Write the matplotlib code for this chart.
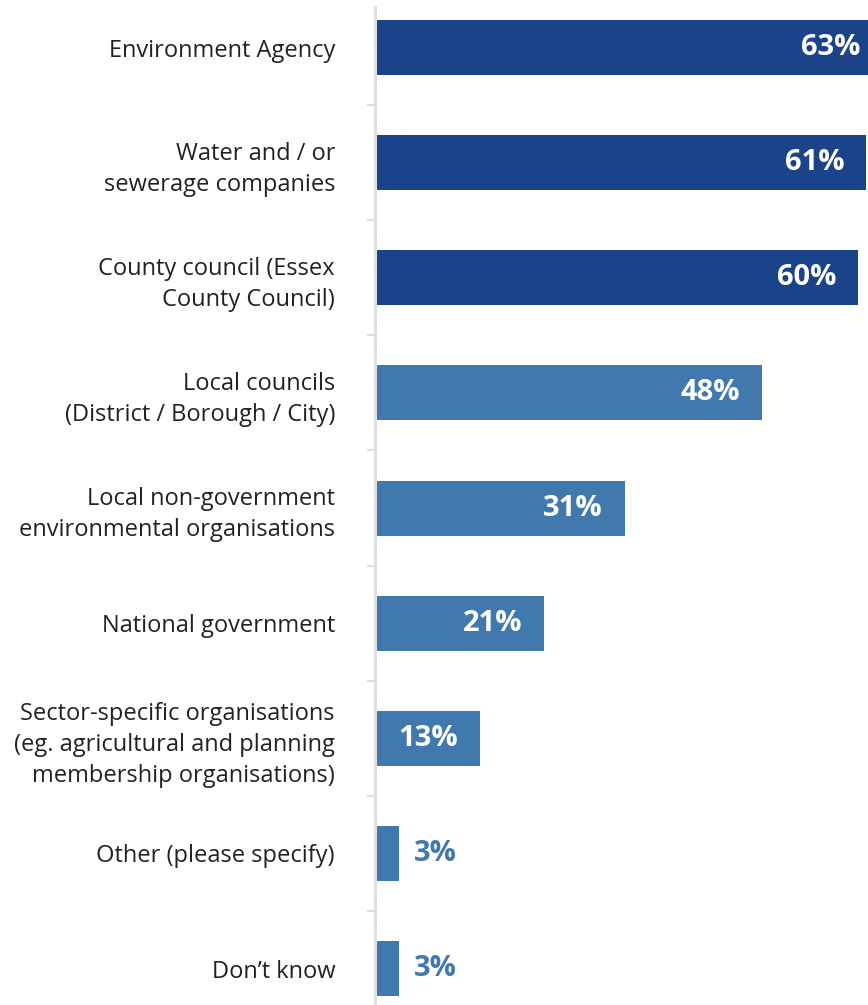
import numpy as np
import matplotlib
matplotlib.use("Agg")
import matplotlib.pyplot as plt

categories = [
    "Environment Agency",
    "Water and / or\nsewerage companies",
    "County council (Essex\nCounty Council)",
    "Local councils\n(District / Borough / City)",
    "Local non-government\nenvironmental organisations",
    "National government",
    "Sector-specific organisations\n(eg. agricultural and planning\nmembership organisations)",
    "Other (please specify)",
    "Don\u2019t know",
]
values = [63, 61, 60, 48, 31, 21, 13, 3, 3]
labels = ["63%", "61%", "60%", "48%", "31%", "21%", "13%", "3%", "3%"]

dark = "#1b4389"
mid = "#4178ad"
colors = [dark, dark, dark, mid, mid, mid, mid, mid, mid]

plt.rcParams['font.family'] = ['Open Sans', 'DejaVu Sans']

W, H = 868, 1005
fig = plt.figure(figsize=(W / 100, H / 100), dpi=100)
ax = fig.add_axes([375 / W, 0, 1 - 375 / W, 1 - 7 / H])

y = np.arange(len(categories))
ax.barh(y, values, height=0.478, color=colors, clip_on=True)

ax.set_xlim(0, 61.2)
ax.set_ylim(8.317, -0.352)

for yi, v, lab in zip(y, values, labels):
    if v > 8:
        ax.annotate(lab, (v, yi), xytext=(-22, 0), textcoords="offset pixels",
                    ha="right", va="center", color="white", fontsize=21,
                    fontweight="bold", annotation_clip=False)
    else:
        ax.annotate(lab, (v, yi), xytext=(15, 0), textcoords="offset pixels",
                    ha="left", va="center", color=mid, fontsize=21,
                    fontweight="bold")

ax.set_yticks(y)
ax.set_yticklabels(categories, fontsize=17, color="#222222",
                   multialignment="right", linespacing=1.4)
ax.tick_params(axis="y", which="major", length=0, pad=28.8)
ax.set_yticks(np.arange(0.5, len(categories) - 1, 1.0), minor=True)
ax.tick_params(axis="y", which="minor", length=5.8, width=1.5, color="#e0e0e0")
ax.set_xticks([])

for s in ["top", "right", "bottom"]:
    ax.spines[s].set_visible(False)
ax.spines["left"].set_color("#e0e0e0")
ax.spines["left"].set_linewidth(2.2)

fig.savefig("out.png", dpi=100)
